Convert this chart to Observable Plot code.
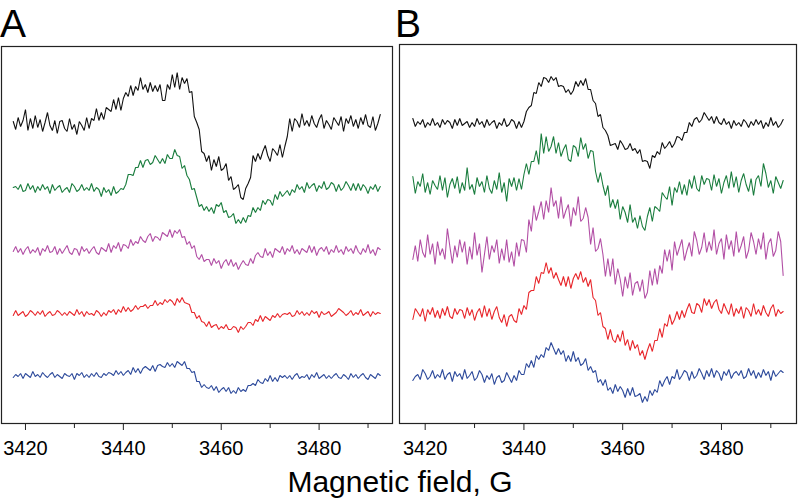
<!DOCTYPE html>
<html><head><meta charset="utf-8">
<script src="https://cdn.jsdelivr.net/npm/d3@7"></script>
<script src="https://cdn.jsdelivr.net/npm/@observablehq/plot@0.6"></script>
<style>
html,body{margin:0;padding:0;background:#fff;}
#root{position:relative;width:799px;height:504px;overflow:hidden;background:#fff;}
.panel{position:absolute;top:0;}
#overlay{position:absolute;left:0;top:0;pointer-events:none;}
</style></head><body><div id="root"></div>
<script>
// ---- data ----
const fieldStart = 3417.5, fieldStep = 0.5;   // sweep start and step (G)
const majorTicks = [3420, 3440, 3460, 3480];
const minorTicks = [3430, 3450, 3470, 3490];
const seriesNames = ["trace 1", "trace 2", "trace 3", "trace 4", "trace 5"];
const seriesColors = ["#111111", "#1a7d3e", "#b24fa5", "#e8262b", "#2d4a9b"];
const offsetsA = [299, 235, 173, 110, 48];
const offsetsB = [300, 238, 173, 110, 48];

const aBlack = [3,-5,7,-2,4,15,-6,6,-4,9, -3,5,-7,2,12,-1,-6,4,-9,3, 4,-4,-7,6,-5,0,-10,3,-1,-6, 7,-4,6,4,16,4,12,5,17,15, 13,25,15,27,14,26,32,28,39,29, 38,34,47,35,40,32,42,33,39,33, 40,24,24,40,35,50,37,52,35,47, 41,46,32,33,8,2,-5,-27,-29,-37, -31,-46,-35,-42,-32,-46,-44,-39,-56,-52, -65,-63,-60,-73,-75,-64,-59,-53,-31,-37, -29,-35,-27,-21,-31,-37,-24,-27,-31,-20, -33,-22,-12,6,-7,6,3,-3,11,-1, 4,-2,9,1,-3,5,10,-4,4,0, -5,7,3,-1,8,-7,6,1,9,-2, 5,-4,7,0,10,-1,-3,8,-6,1,10];
const aGreen = [1,2,-1,4,-3,-2,5,-1,3,-4, 2,-2,4,-1,2,-5,4,-2,1,3, -4,-1,1,-4,5,2,-3,-1,4,-2, 1,-2,5,-3,1,-1,-8,1,-4,-1, -7,2,-5,-3,0,-1,4,14,14,13, 21,21,28,21,28,29,24,26,33,29, 25,30,25,34,30,30,39,33,32,20, 23,13,9,-1,0,-9,-18,-16,-22,-18, -23,-19,-25,-16,-18,-14,-24,-22,-29,-28, -25,-35,-31,-35,-29,-34,-27,-28,-19,-24, -19,-22,-12,-16,-11,-12,-17,-6,-11,-3, -8,-5,-2,-7,-1,-4,4,-1,2,-4, 6,0,3,5,-3,3,0,7,-1,1, 6,4,-3,4,-2,1,7,3,-2,5, -2,5,-2,4,1,-5,2,-1,4,-3,2];
const aMagenta = [-1,4,-2,2,-4,1,4,-3,1,-2, 3,-5,2,-1,5,-2,-1,4,-4,2, -3,1,5,-2,-4,2,1,-5,4,-1, 2,-3,1,4,-2,-4,3,1,-1,7, -2,5,2,8,-1,6,5,2,11,5, 9,7,14,10,8,14,17,9,14,13, 10,18,16,14,21,13,20,17,21,13, 14,6,9,2,5,-6,-9,-4,-11,-9, -9,-15,-8,-13,-10,-18,-12,-9,-15,-9, -16,-12,-19,-14,-10,-14,-15,-8,-13,-5, -2,-6,-7,2,-5,-1,-7,2,0,-2, 4,-4,2,-1,5,-3,1,-4,2,0, -2,5,-2,4,-5,1,3,-1,4,-4, 1,-2,5,-2,1,-4,4,-1,2,-3, 5,-1,-4,2,-2,6,-3,1,-5,3,1];
const aRed = [-2,3,-2,0,2,-3,-1,3,1,-2, 2,-1,3,-3,0,2,-2,-1,3,1, -2,1,-2,2,0,-2,4,-1,2,-3, 2,-1,0,-2,3,1,-3,1,-2,3, 1,4,-1,4,1,7,2,6,2,4, 8,4,7,7,9,5,8,8,13,8, 11,9,14,11,14,12,8,15,11,16, 11,10,9,1,1,-5,-2,-8,-9,-13, -8,-14,-12,-11,-16,-13,-15,-11,-16,-16, -13,-14,-19,-13,-16,-13,-9,-9,-12,-6, -8,-2,-8,-3,-5,-7,-2,-4,0,-4, -1,0,-1,1,-3,-2,3,-1,2,-2, 1,-2,3,0,2,-4,2,-1,0,2, -3,-1,1,5,3,1,-2,0,3,-2, 1,-1,4,-2,0,2,-3,2,-1,1,0];
const aBlue = [-2,1,-1,2,-3,2,0,-2,4,-1, 1,-2,3,0,-2,1,3,-2,1,-1, -3,2,0,-1,2,-4,2,0,3,-2, 1,-2,2,-1,3,-1,-2,2,0,3, 2,0,5,1,4,0,3,5,1,8, 3,7,2,7,9,7,5,10,4,10, 11,9,8,13,9,12,8,14,12,10, 14,7,7,3,4,-6,-6,-12,-9,-12, -13,-10,-15,-11,-17,-14,-12,-16,-12,-18, -15,-18,-12,-16,-14,-16,-10,-10,-8,-10, -4,-7,-8,-3,-6,0,-6,-2,-6,0, -2,0,-3,0,-4,0,2,-3,-1,-2, 1,-4,1,-2,3,-3,-1,1,-3,0, -3,0,2,-2,-3,1,-1,-4,2,-2, 1,-3,0,2,-2,-4,1,-1,-3,2,0];

const bBlack = [5,-3,2,-1,4,-4,1,-2,5,-2, 1,-4,4,-1,3,1,-5,4,-2,5, -2,0,2,-4,1,-3,5,-1,2,-4, 4,-2,1,3,-5,1,-2,5,-3,-1, 4,2,-5,2,-4,2,12,16,18,31, 30,41,37,46,45,41,47,43,46,37, 38,37,31,34,29,33,42,37,43,38, 45,34,34,23,20,7,9,-4,-7,-12, -22,-21,-20,-26,-17,-21,-26,-25,-20,-27, -25,-30,-26,-38,-37,-38,-45,-32,-34,-28, -31,-19,-25,-22,-18,-24,-20,-13,-14,-17, -9,-9,1,-3,4,6,1,4,11,7, 3,7,0,7,1,-1,5,-1,2,-5, 3,-2,1,-3,4,1,-4,2,-2,4, -1,3,-5,1,-3,6,-2,2,-4,-1,4];
const bGreen = [9,-8,4,-1,12,-7,3,-9,5,0, -4,10,-5,8,-12,1,7,-3,9,-8, 3,-5,18,-4,1,-9,8,-1,4,-7, 10,-3,-8,5,-4,13,-7,3,-16,7, -1,8,-5,7,-4,11,22,11,24,24, 35,21,52,32,49,34,39,49,32,43, 29,36,41,26,24,40,38,29,48,36, 42,27,35,34,14,3,13,0,-10,0, -22,-14,-23,-14,-34,-21,-27,-37,-19,-37, -32,-43,-30,-41,-45,-31,-22,-36,-21,-23, -26,-7,-11,-14,-1,-20,-2,-7,4,-9, 1,-10,6,-3,10,-3,-6,10,1,7, 6,-5,11,-1,7,-8,3,10,-3,14, -2,9,-7,5,12,1,-6,7,-10,6, 10,-1,22,12,-2,5,-8,9,3,-3,5];
const bMagenta = [-9,5,-11,11,-2,-7,16,-4,7,-14, 9,-5,2,-9,22,4,-13,5,-7,11, -2,9,-14,4,-9,18,-5,7,-22,-4, 14,-9,5,-2,11,-13,2,-10,11,-12, -1,-16,8,-6,11,10,-2,31,19,45, 30,39,49,31,50,38,63,44,50,32, 54,32,40,46,24,43,35,54,29,32, 43,33,6,23,-1,2,12,-4,-26,-8, -26,-8,-34,-18,-29,-46,-26,-38,-22,-45, -33,-31,-41,-29,-48,-42,-20,-35,-18,-34, -15,-23,1,-11,1,-20,9,-5,3,11, -10,0,8,-6,19,10,-4,3,18,-2, 9,0,21,-4,7,12,-9,16,1,10, -6,19,-2,5,14,-8,0,18,9,-4, 12,1,18,-9,7,12,-6,0,19,9,-25];
const bRed = [-6,5,1,-3,5,-8,4,-1,6,-4, 3,-5,5,-2,7,-3,-5,5,-1,4, 3,-5,6,-2,4,-7,1,5,-4,8, -3,5,-6,2,7,-4,-9,-1,-13,-3, -1,-7,-9,5,-1,8,4,21,23,23, 37,30,41,40,51,40,46,35,41,34, 28,37,27,37,25,35,40,34,42,31, 36,27,34,16,13,-2,1,-13,-15,-26, -16,-26,-29,-21,-28,-17,-32,-26,-37,-27, -35,-31,-42,-37,-46,-37,-30,-38,-27,-27, -15,-24,-10,-13,-1,-11,-6,2,-6,3, -4,4,10,1,0,10,8,1,15,8, 14,5,11,14,4,0,10,4,-1,10, -3,5,0,7,-5,6,3,-3,10,-1, 4,-2,8,1,-3,5,9,-3,4,0,2];
const bBlue = [-5,-1,1,-4,6,2,-4,-1,5,-3, 1,-2,6,-4,1,3,-6,4,-1,2, -4,6,-3,0,4,-5,-2,5,1,-7, 0,-4,2,-9,-2,0,-7,-5,3,-2, -7,0,-5,5,1,1,12,8,15,8, 20,16,21,18,28,25,33,27,21,27, 21,25,14,20,14,24,14,18,10,12, 17,5,9,3,5,-7,-4,-10,-4,-15, -12,-18,-9,-16,-11,-15,-22,-13,-20,-12, -21,-20,-18,-27,-21,-26,-15,-20,-14,-17, -5,-11,-5,-1,-9,-1,-3,6,-4,0, 5,3,-5,4,-3,0,7,2,-4,5, -1,7,-2,5,2,-5,4,0,6,-3, 2,4,0,5,-3,-1,7,0,5,-3, 3,-2,6,0,4,-5,5,-1,2,5,3];

const tracesA = [aBlack, aGreen, aMagenta, aRed, aBlue];
const tracesB = [bBlack, bGreen, bMagenta, bRed, bBlue];

// ---- build ----
function rows(vals, offset, name) {
  return vals.map((v, i) => ({field: fieldStart + i * fieldStep, y: offset + v, s: name}));
}

const font = '"Liberation Sans", Arial, Helvetica, sans-serif';

function panel(traces, offsets, cfg) {
  const lines = traces.map((vals, k) =>
    Plot.line(rows(vals, offsets[k], seriesNames[k]), {x: "field", y: "y", stroke: seriesColors[k], strokeWidth: 1.1, strokeLinejoin: "miter"}));
  return Plot.plot({
    width: cfg.width, height: 470,
    marginLeft: cfg.ml, marginRight: cfg.mr, marginTop: cfg.mt, marginBottom: 47,
    style: {fontFamily: font, fontSize: "20px", color: "#000", background: "transparent"},
    x: {domain: cfg.xdomain},
    y: {domain: [0, cfg.ymax], axis: null},
    marks: [
      ...lines,
      Plot.frame({stroke: "#222", strokeWidth: 1.2}),
      Plot.axisX(majorTicks, {tickSize: 7, tickPadding: 10, fontSize: 20, label: null, stroke: "#222", tickFormat: d => String(d)}),
      Plot.axisX(minorTicks, {tickSize: 5, text: null, label: null, stroke: "#222"})
    ]
  });
}

const root = document.getElementById("root");
const pa = document.createElement("div"); pa.className = "panel"; pa.style.left = "0px";
pa.appendChild(panel(tracesA, offsetsA, {width: 400, ml: 1, mr: 8, mt: 46, ymax: 377, xdomain: [3415.1, 3495.0]}));
const pb = document.createElement("div"); pb.className = "panel"; pb.style.left = "395px";
pb.appendChild(panel(tracesB, offsetsB, {width: 404, ml: 4, mr: 3, mt: 44, ymax: 379, xdomain: [3414.8, 3495.2]}));
root.appendChild(pa);
root.appendChild(pb);

const ns = "http://www.w3.org/2000/svg";
const ov = document.createElementNS(ns, "svg");
ov.setAttribute("id", "overlay"); ov.setAttribute("width", 799); ov.setAttribute("height", 504);
function addText(str, x, y, size, anchor) {
  const t = document.createElementNS(ns, "text");
  t.setAttribute("x", x); t.setAttribute("y", y);
  t.setAttribute("font-size", size); t.setAttribute("font-family", font);
  t.setAttribute("text-anchor", anchor); t.setAttribute("fill", "#000");
  t.textContent = str; ov.appendChild(t);
}
addText("A", 0, 36.5, 39, "start");
addText("B", 395, 36.5, 39, "start");
addText("Magnetic field, G", 400, 492, 30, "middle");
root.appendChild(ov);
</script></body></html>
